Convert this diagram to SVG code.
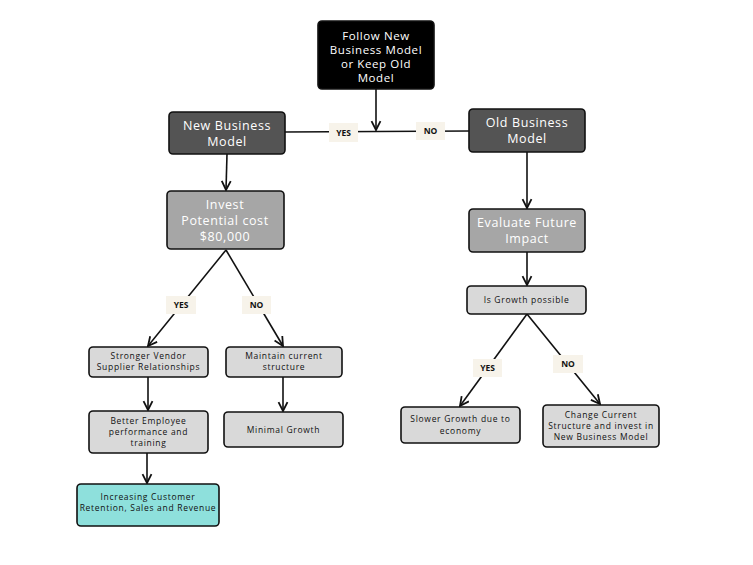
<svg xmlns="http://www.w3.org/2000/svg" width="753" height="565" viewBox="0 0 753 565">
<defs>
<marker id="ah" viewBox="0 0 10 10" refX="9" refY="5" markerWidth="7" markerHeight="7" orient="auto-start-reverse"><path d="M1,1 L9,5 L1,9" fill="none" stroke="#111" stroke-width="1.6"/></marker>
<style>
.n rect{stroke:#111;stroke-width:1.6}
.t{font-family:"Open Sans","DejaVu Sans",sans-serif;text-anchor:middle;letter-spacing:0.6px}
.w{fill:#fff;font-size:12.5px}
.s{font-size:11.5px}
.b{fill:#111;font-size:8.5px;letter-spacing:0.7px}
.c line{stroke:#111;stroke-width:1.6}
.lb rect{fill:#f7f3ea}
.lb text{font-family:"Open Sans","DejaVu Sans",sans-serif;font-weight:bold;font-size:8.5px;text-anchor:middle;fill:#111}
</style>
</defs>
<rect width="753" height="565" fill="#fff"/>
<g class="c">
<line x1="376" y1="89" x2="376" y2="130" marker-end="url(#ah)"/>
<line x1="285" y1="132" x2="469" y2="131"/>
<line x1="227" y1="154" x2="226" y2="190" marker-end="url(#ah)"/>
<line x1="527" y1="152" x2="527" y2="208" marker-end="url(#ah)"/>
<line x1="527" y1="252" x2="527" y2="285" marker-end="url(#ah)"/>
<line x1="226" y1="250" x2="148" y2="346" marker-end="url(#ah)"/>
<line x1="226" y1="250" x2="283" y2="346" marker-end="url(#ah)"/>
<line x1="148" y1="377" x2="148" y2="410" marker-end="url(#ah)"/>
<line x1="283" y1="377" x2="283" y2="411" marker-end="url(#ah)"/>
<line x1="147" y1="453" x2="147" y2="483" marker-end="url(#ah)"/>
<line x1="527" y1="314" x2="460" y2="406" marker-end="url(#ah)"/>
<line x1="527" y1="314" x2="600" y2="404" marker-end="url(#ah)"/>
</g>
<g class="lb">
<g id="l1"><rect x="329" y="123" width="29" height="19"/><text x="343.5" y="136">YES</text></g>
<g id="l2"><rect x="416" y="122" width="29" height="18"/><text x="430.5" y="134">NO</text></g>
<g id="l3"><rect x="166" y="296" width="30" height="18"/><text x="181" y="308">YES</text></g>
<g id="l4"><rect x="242" y="296" width="29" height="18"/><text x="256.5" y="308">NO</text></g>
<g id="l5"><rect x="473" y="359" width="29" height="18"/><text x="487.5" y="371">YES</text></g>
<g id="l6"><rect x="553" y="355" width="30" height="18"/><text x="568" y="367">NO</text></g>
</g>
<g id="top" class="n"><rect x="318" y="21" width="116" height="68" rx="4" fill="#000"/><text class="t w s" x="376" y="40">Follow New</text><text class="t w s" x="376" y="54">Business Model</text><text class="t w s" x="376" y="68">or Keep Old</text><text class="t w s" x="376" y="82">Model</text></g>
<g id="newbm" class="n"><rect x="169" y="112" width="116" height="42" rx="4" fill="#545454"/><text class="t w" x="227" y="130">New Business</text><text class="t w" x="227" y="146">Model</text></g>
<g id="oldbm" class="n"><rect x="469" y="109" width="116" height="43" rx="4" fill="#545454"/><text class="t w" x="527" y="127">Old Business</text><text class="t w" x="527" y="143">Model</text></g>
<g id="invest" class="n"><rect x="167" y="191" width="117" height="58" rx="4" fill="#a6a6a6"/><text class="t w" x="225" y="209">Invest</text><text class="t w" x="225" y="225">Potential cost</text><text class="t w" x="225" y="241">$80,000</text></g>
<g id="eval" class="n"><rect x="469" y="209" width="116" height="43" rx="4" fill="#a6a6a6"/><text class="t w" x="527" y="227">Evaluate Future</text><text class="t w" x="527" y="243">Impact</text></g>
<g id="growth" class="n"><rect x="467" y="286" width="119" height="28" rx="4" fill="#d9d9d9"/><text class="t b" x="526.5" y="303">Is Growth possible</text></g>
<g id="vendor" class="n"><rect x="89" y="347" width="119" height="30" rx="4" fill="#d9d9d9"/><text class="t b" x="148.5" y="359">Stronger Vendor</text><text class="t b" x="148.5" y="370">Supplier Relationships</text></g>
<g id="maintain" class="n"><rect x="226" y="347" width="116" height="30" rx="4" fill="#d9d9d9"/><text class="t b" x="284" y="359">Maintain current</text><text class="t b" x="284" y="370">structure</text></g>
<g id="employee" class="n"><rect x="89" y="411" width="119" height="42" rx="4" fill="#d9d9d9"/><text class="t b" x="148.5" y="424">Better Employee</text><text class="t b" x="148.5" y="435">performance and</text><text class="t b" x="148.5" y="446">training</text></g>
<g id="minimal" class="n"><rect x="224" y="412" width="119" height="35" rx="4" fill="#d9d9d9"/><text class="t b" x="283.5" y="433">Minimal Growth</text></g>
<g id="increase" class="n"><rect x="77" y="484" width="142" height="42" rx="4" fill="#8ee0dc"/><text class="t b" x="148" y="500">Increasing Customer</text><text class="t b" x="148" y="511">Retention, Sales and Revenue</text></g>
<g id="slower" class="n"><rect x="401" y="407" width="119" height="36" rx="4" fill="#d9d9d9"/><text class="t b" x="460.5" y="422">Slower Growth due to</text><text class="t b" x="460.5" y="434">economy</text></g>
<g id="change" class="n"><rect x="543" y="405" width="116" height="42" rx="4" fill="#d9d9d9"/><text class="t b" x="601" y="418">Change Current</text><text class="t b" x="601" y="429">Structure and invest in</text><text class="t b" x="601" y="440">New Business Model</text></g>
</svg>
